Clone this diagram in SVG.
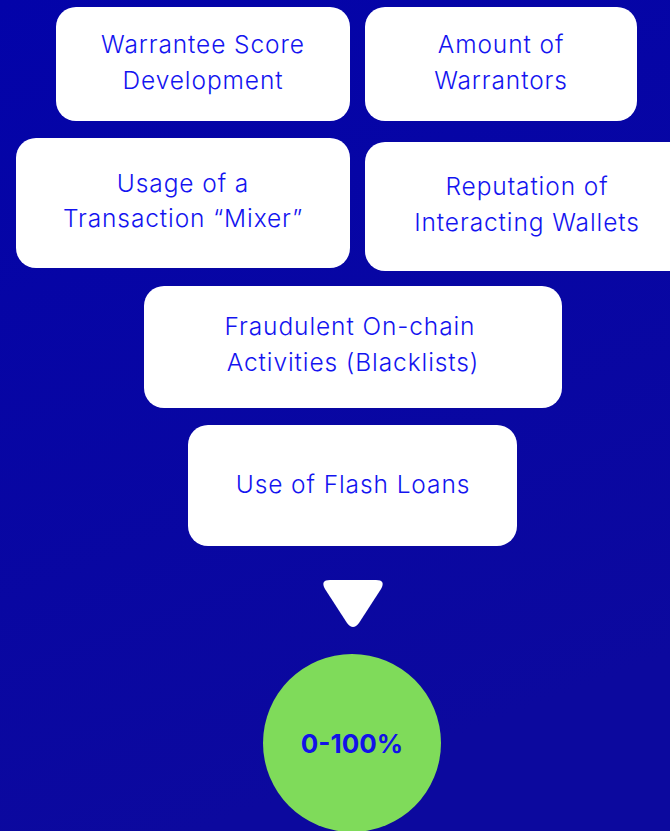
<svg xmlns="http://www.w3.org/2000/svg" width="670" height="831" viewBox="0 0 670 831">
  <defs>
    <linearGradient id="bg" x1="0" y1="0" x2="0.3" y2="1">
      <stop offset="0" stop-color="#0303A9"/>
      <stop offset="1" stop-color="#0C099E"/>
    </linearGradient>
  </defs>
  <style>
    .box { fill: #FFFFFF; }
    .lbl { font-family: "Inter", "Liberation Sans", sans-serif; font-size: 24.5px; font-weight: 300; letter-spacing: 0.9px; fill: #1414F0; text-anchor: middle; dominant-baseline: central; }
    .big { font-family: "Inter", "Liberation Sans", sans-serif; font-size: 26px; font-weight: bold; fill: #1212E8; text-anchor: middle; dominant-baseline: central; }
  </style>
  <rect x="0" y="0" width="670" height="831" fill="url(#bg)"/>
  <g id="n1">
    <rect class="box" x="56" y="7" width="294" height="114" rx="20"/>
    <text class="lbl" x="203" y="44">Warrantee Score</text>
    <text class="lbl" x="203" y="80">Development</text>
  </g>
  <g id="n2">
    <rect class="box" x="365" y="7" width="272" height="114" rx="20"/>
    <text class="lbl" x="501" y="44">Amount of</text>
    <text class="lbl" x="501" y="80">Warrantors</text>
  </g>
  <g id="n3">
    <rect class="box" x="16" y="138" width="334" height="130" rx="20"/>
    <text class="lbl" x="183" y="183">Usage of a</text>
    <text class="lbl" x="183" y="218">Transaction “Mixer”</text>
  </g>
  <g id="n4">
    <rect class="box" x="365" y="142" width="330" height="129" rx="20"/>
    <text class="lbl" x="527" y="186">Reputation of</text>
    <text class="lbl" x="527" y="222">Interacting Wallets</text>
  </g>
  <g id="n5">
    <rect class="box" x="144" y="286" width="418" height="122" rx="20"/>
    <text class="lbl" x="350" y="326">Fraudulent On-chain</text>
    <text class="lbl" x="353" y="362">Activities (Blacklists)</text>
  </g>
  <g id="n6">
    <rect class="box" x="188" y="425" width="329" height="121" rx="20"/>
    <text class="lbl" x="353" y="484">Use of Flash Loans</text>
  </g>
  <g id="connectors">
    <path d="M 330 580 L 376 580 Q 386 580 381 589 L 359 623 Q 353 631 347 623 L 325 589 Q 320 580 330 580 Z" fill="#FFFFFF"/>
  </g>
  <g id="n7">
    <circle cx="352" cy="743" r="89" fill="#7FDB5A"/>
    <text class="big" x="352" y="743">0-100%</text>
  </g>
</svg>
